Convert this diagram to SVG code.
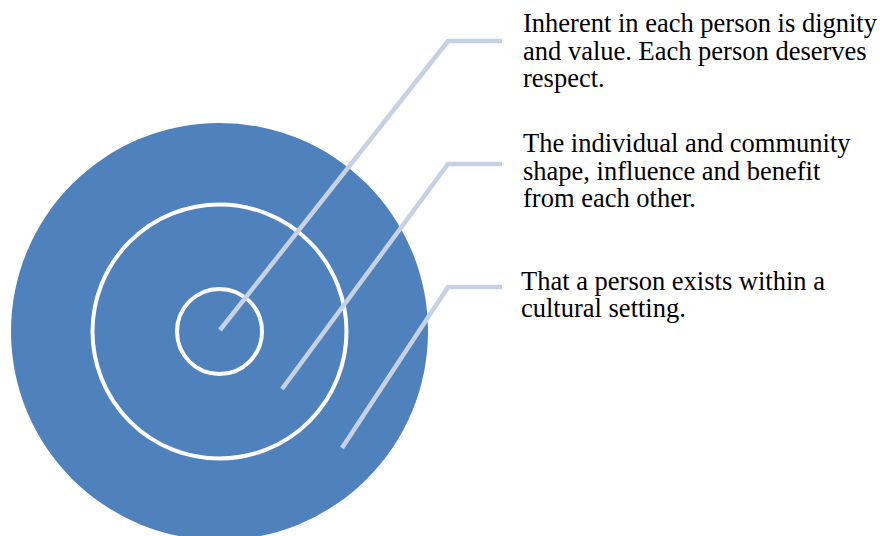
<svg xmlns="http://www.w3.org/2000/svg" width="880" height="536" viewBox="0 0 880 536">
<style>
.ring{fill:none;stroke:#ffffff;stroke-width:4}
.leader{fill:none;stroke:#c6d1e4;stroke-width:4.5;stroke-linecap:butt;stroke-linejoin:miter}
.lbl{font-family:"Liberation Serif","Times New Roman",serif;font-size:26.5px;fill:#000000}
</style>
<rect width="880" height="536" fill="#ffffff"/>
<g id="outer-circle"><circle cx="219.5" cy="331.5" r="208.5" fill="#4f81bd"/></g>
<g id="middle-ring"><circle class="ring" cx="219.5" cy="331.5" r="127"/></g>
<g id="inner-ring"><circle class="ring" cx="219.5" cy="331.5" r="42.5"/></g>
<g id="connectors">
<polyline class="leader" points="220,330 448,41 502,41"/>
<polyline class="leader" points="282,389 448,164 502,164"/>
<polyline class="leader" points="342,448 448,287 502,287"/>
</g>
<g id="label-1"><text class="lbl"><tspan x="523" y="32">Inherent in each person is dignity</tspan><tspan x="523" y="60">and value. Each person deserves</tspan><tspan x="523" y="87">respect.</tspan></text></g>
<g id="label-2"><text class="lbl"><tspan x="523" y="152">The individual and community</tspan><tspan x="523" y="180">shape, influence and benefit</tspan><tspan x="523" y="207">from each other.</tspan></text></g>
<g id="label-3"><text class="lbl"><tspan x="521" y="290">That a person exists within a</tspan><tspan x="521" y="317">cultural setting.</tspan></text></g>
</svg>
